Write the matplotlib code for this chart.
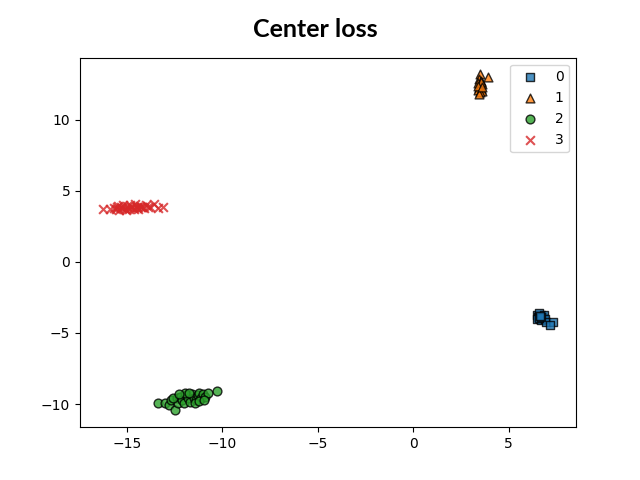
import matplotlib
matplotlib.use("Agg")
import matplotlib.pyplot as plt

# class 0 - squares
x0 = [6.5, 6.6, 6.55, 6.7, 6.65, 6.75, 6.6, 6.8, 6.5, 6.7, 6.85, 6.9, 6.95, 7.35, 7.15, 6.6, 6.7, 6.62]
y0 = [-3.7, -3.8, -3.9, -3.75, -4.0, -3.85, -3.6, -3.95, -4.05, -4.1, -3.7, -4.0, -4.2, -4.25, -4.45, -3.95, -3.9, -3.82]

# class 1 - triangles
x1 = [3.5, 3.9, 3.45, 3.55, 3.4, 3.6, 3.5, 3.45, 3.55, 3.4, 3.6, 3.5, 3.45, 3.55, 3.38, 3.62]
y1 = [13.2, 13.0, 12.9, 12.75, 12.6, 12.55, 12.4, 12.25, 12.2, 12.1, 12.05, 11.95, 11.85, 12.65, 12.35, 12.3]

# class 2 - circles
x2 = [-13.35, -13.0, -12.8, -12.7, -12.5, -12.4, -12.3, -12.2, -12.1, -12.0, -11.9, -11.8, -11.7, -11.6,
      -11.5, -11.4, -11.3, -11.2, -11.1, -11.0, -10.9, -10.75, -10.3, -12.6, -11.95, -11.45, -12.25,
      -11.75, -11.25, -10.95]
y2 = [-9.95, -9.9, -10.05, -9.75, -10.45, -9.6, -9.9, -9.5, -9.75, -9.95, -9.35, -9.6, -9.85, -9.3,
      -9.55, -9.75, -9.4, -9.2, -9.6, -9.3, -9.5, -9.25, -9.1, -9.55, -9.2, -9.95, -9.3,
      -9.2, -9.8, -9.75]

# class 3 - crosses
x3 = [-16.28, -15.9, -15.7, -15.6, -15.5, -15.4, -15.3, -15.2, -15.1, -15.0, -14.9, -14.8, -14.7, -14.6,
      -14.5, -14.4, -14.3, -14.2, -14.1, -14.0, -13.9, -13.8, -13.6, -13.4, -13.13, -15.45, -15.05,
      -14.65, -14.25, -15.25, -14.85, -14.45]
y3 = [3.72, 3.75, 3.8, 3.7, 3.9, 3.65, 3.85, 4.0, 3.75, 3.95, 3.7, 3.9, 3.8, 4.05, 3.85, 3.75, 3.95,
      3.9, 3.8, 4.0, 3.85, 3.9, 4.05, 3.8, 3.9, 3.95, 3.65, 3.7, 3.85, 3.8, 4.0, 3.9]

fig, ax = plt.subplots(figsize=(6.4, 4.8), dpi=100)
ax.scatter(x0, y0, marker='s', c='tab:blue', edgecolors='black', alpha=0.8, s=40, label='0')
ax.scatter(x1, y1, marker='^', c='tab:orange', edgecolors='black', alpha=0.8, s=40, label='1')
ax.scatter(x2, y2, marker='o', c='tab:green', edgecolors='black', alpha=0.8, s=40, label='2')
ax.scatter(x3, y3, marker='x', c='tab:red', alpha=0.8, s=40, label='3')
ax.legend(loc='upper right')
fig.text(0.492, 0.923, 'Center loss', fontsize=18, fontweight='bold', family='Lato',
         ha='center', va='baseline')
fig.savefig('out.png')
